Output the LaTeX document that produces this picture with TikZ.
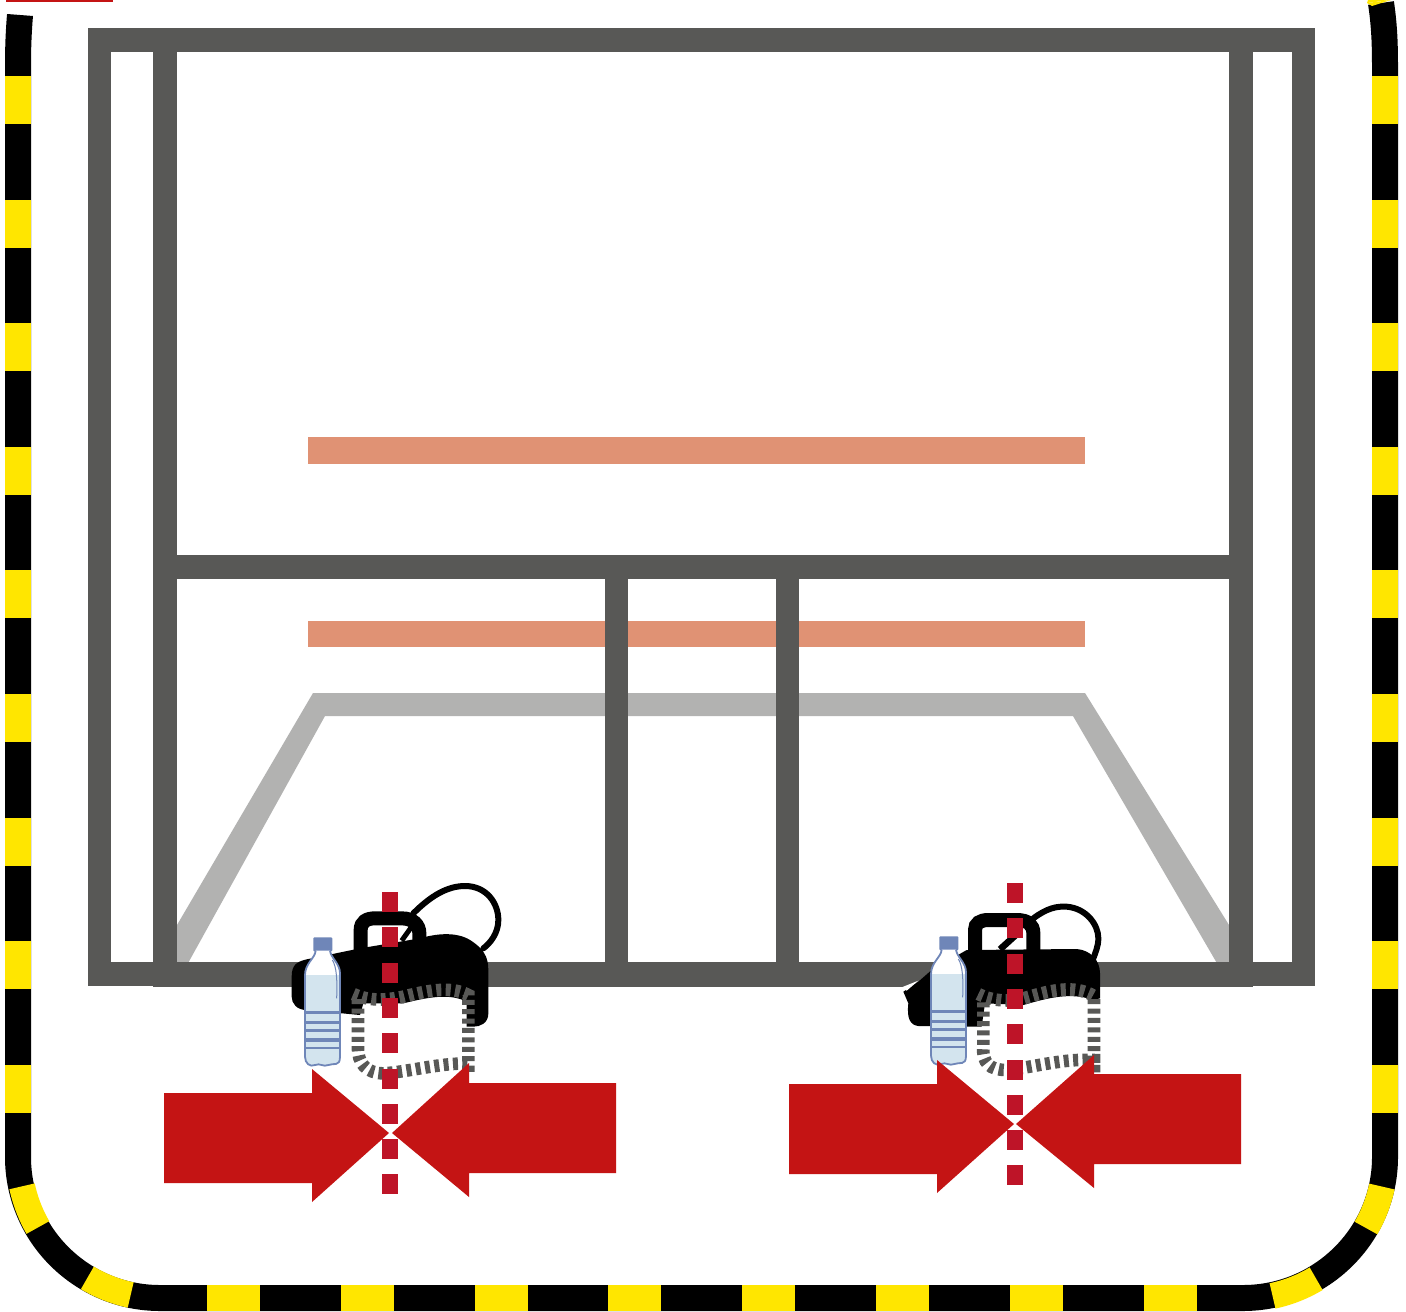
\documentclass[tikz,border=0pt]{standalone}
\definecolor{framegray}{HTML}{585856}
\definecolor{lightband}{HTML}{B2B2B1}
\definecolor{salmon}{HTML}{E09274}
\definecolor{arrowred}{HTML}{C41414}
\definecolor{dashred}{HTML}{BE1428}
\definecolor{hazard}{HTML}{FFE600}
\definecolor{bottleblue}{HTML}{6F86B8}
\definecolor{waterblue}{HTML}{D3E4EE}
\tikzset{
  framebar/.style={fill=framegray},
  hazardband/.style={line width=13pt,line cap=butt},
  zoomed/.style={x=0.166667pt,y=-0.166667pt},
  bagcord/.style={line width=3pt,black,line cap=round},
  baghandle/.style={line width=7pt,black},
  zipper/.style={line width=6.3pt,framegray,dash pattern=on 2.5pt off 2.2pt},
  redmark/.style={fill=dashred},
  redarrow/.style={fill=arrowred}
}
\newcommand{\bottlepic}{%
  \fill[bottleblue,rounded corners=0.5pt] (55,22) rectangle (112,64);
  \path[fill=white] (62,62) .. controls (60,85) and (30,100) .. (30,135) -- (30,380) .. controls (30,400) and (45,412) .. (60,405) .. controls (75,398) and (85,412) .. (100,405) .. controls (115,398) and (135,412) .. (135,380) -- (135,130) .. controls (135,100) and (108,85) .. (105,62) -- cycle;
  \begin{scope}
    \clip (62,62) .. controls (60,85) and (30,100) .. (30,135) -- (30,380) .. controls (30,400) and (45,412) .. (60,405) .. controls (75,398) and (85,412) .. (100,405) .. controls (115,398) and (135,412) .. (135,380) -- (135,130) .. controls (135,100) and (108,85) .. (105,62) -- cycle;
    \fill[waterblue] (20,135) rectangle (145,420);
    \draw[bottleblue,line width=1.7pt] (20,248) -- (145,248);
    \draw[bottleblue,line width=1.5pt] (20,277) -- (145,277);
    \draw[bottleblue,line width=1.3pt] (20,302) -- (145,302);
    \draw[bottleblue,line width=1.7pt] (20,330) -- (145,330);
    \draw[bottleblue,line width=1.3pt] (20,354) -- (145,354);
  \end{scope}
  \draw[bottleblue,line width=0.9pt,line join=round] (62,62) .. controls (60,85) and (30,100) .. (30,135) -- (30,380) .. controls (30,400) and (45,412) .. (60,405) .. controls (75,398) and (85,412) .. (100,405) .. controls (115,398) and (135,412) .. (135,380) -- (135,130) .. controls (135,100) and (108,85) .. (105,62);
  \draw[bottleblue,line width=0.5pt] (112,90) .. controls (125,110) and (127,150) .. (125,205);
}
\begin{document}
\begin{tikzpicture}[x=0.5pt,y=-0.5pt]
\useasboundingbox (0,0) rectangle (1406,1311);
\fill[white] (0,0) rectangle (1406,1311);
% red sliver at the top
\fill[arrowred] (6,0) rectangle (113,2);
% hazard border
\draw[hazardband,black] (20,15) .. controls (18,40) and (18,55) .. (18,76) -- (18,1157)
  .. controls (18,1235) and (82,1298) .. (160,1298) -- (1243,1298)
  .. controls (1321,1298) and (1385,1235) .. (1385,1157) -- (1385,76)
  .. controls (1385,50) and (1385,30) .. (1381,3);
\foreach \k in {0,...,8} {
  \fill[hazard] (5,{76+123.6*\k}) rectangle (31,{76+123.6*\k+48});
  \fill[hazard] (1372,{76+123.6*\k}) rectangle (1398,{76+123.6*\k+48});
}
\foreach \k in {0,...,7} {
  \fill[hazard] ({207+133.8*\k},1285) rectangle ({207+133.8*\k+53},1311);
}
\draw[hazardband,hazard] plot[domain=12:30,samples=10] ({160-141*cos(\x)},{1157+141*sin(\x)});
\draw[hazardband,hazard] plot[domain=59:78,samples=10] ({160-141*cos(\x)},{1157+141*sin(\x)});
\draw[hazardband,hazard] plot[domain=12:30,samples=10] ({1243+142*cos(\x)},{1157+142*sin(\x)});
\draw[hazardband,hazard] plot[domain=59:78,samples=10] ({1243+142*cos(\x)},{1157+142*sin(\x)});
\fill[hazard] (1367,3) -- (1390,0) -- (1368,0) -- cycle;
\fill[hazard] (1367,3) -- (1391,0) -- (1372,6) -- cycle;
% salmon bars
\fill[salmon] (308,437) rectangle (1085,464);
\fill[salmon] (308,621) rectangle (1085,647);
% light band
\fill[lightband] (313,693) -- (1085,693) -- (1229,925) -- (1229,965) -- (1218,965) -- (1073,716) -- (325,716) -- (187,965) -- (177,965) -- (177,925) -- cycle;
% frame
\fill[framebar] (88,28) rectangle (1315,52);
\fill[framebar] (88,28) rectangle (111,986);
\fill[framebar] (1292,28) rectangle (1315,986);
\fill[framebar] (153,28) rectangle (177,987);
\fill[framebar] (1229,28) rectangle (1253,987);
\fill[framebar] (88,962) rectangle (1315,986);
\fill[framebar] (153,965) rectangle (1253,987);
\fill[framebar] (177,555) rectangle (1229,579);
\fill[framebar] (605,579) rectangle (628,965);
\fill[framebar] (776,579) rectangle (799,965);
% left bag
\begin{scope}[shift={(270,870)},zoomed]
  \draw[bagcord] (430,130) .. controls (480,80) and (530,48) .. (585,48) .. controls (650,48) and (685,100) .. (685,150) .. controls (685,190) and (660,220) .. (640,235);
  \draw[baghandle] (272,245) -- (272,180) .. controls (272,155) and (290,145) .. (315,145) -- (395,145) .. controls (430,145) and (448,165) .. (448,190) -- (448,220);
  \draw[black,line width=2.5pt] (395,212) -- (425,170);
  \fill[black] (65,320) .. controls (65,285) and (80,275) .. (110,268) -- (270,235) -- (450,205) .. controls (500,190) and (560,185) .. (600,210) .. controls (640,235) and (655,260) .. (655,300) -- (655,430) .. controls (655,460) and (630,470) .. (610,470) -- (590,470) -- (590,395) .. controls (540,370) and (480,380) .. (400,400) -- (280,400) -- (270,435) -- (110,420) .. controls (80,420) and (65,400) .. (65,380) -- cycle;
  \draw[zipper] (250,372) .. controls (300,395) and (350,390) .. (400,380) .. controls (460,365) and (540,345) .. (595,375) -- (595,610) -- (595,580) .. controls (500,580) and (420,605) .. (340,610) .. controls (290,610) and (262,580) .. (264,530) -- (264,380);
\end{scope}
% right bag
\begin{scope}[shift={(890,870)},zoomed]
  \draw[bagcord] (430,145) .. controls (470,115) and (500,108) .. (530,110) .. controls (590,115) and (625,165) .. (625,205) .. controls (625,230) and (615,250) .. (610,265);
  \draw[baghandle] (255,245) -- (255,180) .. controls (255,160) and (270,150) .. (295,150) -- (380,150) .. controls (415,150) and (430,165) .. (430,190) -- (430,245);
  \draw[black,line width=3.3pt] (330,238) -- (385,188);
  \fill[black] (40,365) -- (85,335) -- (125,300) -- (230,240) -- (560,237) .. controls (600,240) and (630,270) .. (630,310) -- (630,385) -- (610,390) .. controls (540,365) and (470,385) .. (400,405) -- (285,400) -- (275,470) -- (85,468) .. controls (60,465) and (50,445) .. (55,400) -- cycle;
  \fill[white] (35,352) -- (85,332) -- (50,362) -- cycle;
  \draw[zipper] (265,372) .. controls (310,395) and (360,395) .. (400,385) .. controls (470,365) and (550,340) .. (612,378) -- (612,610) -- (612,570) .. controls (520,565) and (440,590) .. (350,600) .. controls (300,600) and (276,580) .. (280,530) -- (280,385);
\end{scope}
% bottles
\begin{scope}[shift={(295,930)},zoomed]
  \bottlepic
\end{scope}
\begin{scope}[shift={(921,929)},zoomed]
  \bottlepic
\end{scope}
% red arrows
\fill[redarrow] (164,1093) -- (312,1093) -- (312,1069) -- (389,1133) -- (312,1202) -- (312,1183) -- (164,1183) -- cycle;
\fill[redarrow] (616,1083) -- (469,1083) -- (469,1063) -- (392,1133) -- (469,1197) -- (469,1173) -- (616,1173) -- cycle;
\fill[redarrow] (789,1084) -- (937,1084) -- (937,1060) -- (1014,1124) -- (937,1193) -- (937,1174) -- (789,1174) -- cycle;
\fill[redarrow] (1241,1074) -- (1094,1074) -- (1094,1055) -- (1016,1124) -- (1094,1188) -- (1094,1164) -- (1241,1164) -- cycle;
% red dashed axes
\foreach \k in {0,...,8} {
  \fill[redmark] (382,{892+35.3*\k}) rectangle (398,{892+35.3*\k+20});
  \fill[redmark] (1007,{883+35.3*\k}) rectangle (1023,{883+35.3*\k+20});
}
\end{tikzpicture}
\end{document}
